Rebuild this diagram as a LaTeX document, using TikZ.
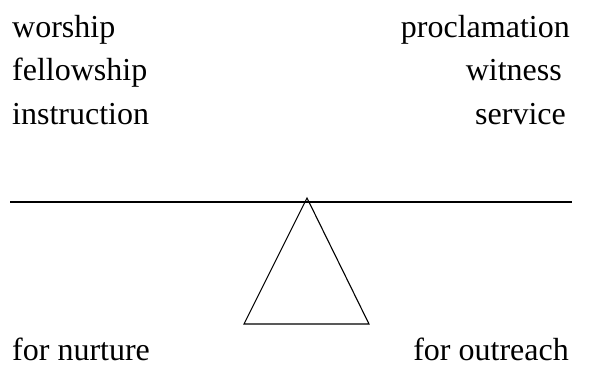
\documentclass[tikz,border=0pt]{standalone}
\usepackage{fontspec}
\setmainfont{Liberation Serif}
\begin{document}
\begin{tikzpicture}[x=1pt,y=-1pt,
  lbl/.style={inner sep=0pt,font=\fontsize{32}{37}\selectfont},
  lft/.style={lbl,anchor=base west},
  rgt/.style={lbl,anchor=base east},
  stroke/.style={line width=1.1pt,line join=miter}]
\useasboundingbox (0,0) rectangle (594,367);
\node[lft] (wor) at (12,37) {worship};
\node[lft] (fel) at (12,80) {fellowship};
\node[lft] (ins) at (12,124) {instruction};
\node[lft] (nur) at (12,360) {for nurture};
\node[rgt] (pro) at (570,37) {proclamation};
\node[rgt] (wit) at (562,80) {witness};
\node[rgt] (ser) at (566,124) {service};
\node[rgt] (out) at (569,360) {for outreach};
\coordinate (beamL) at (10,202);
\coordinate (beamR) at (572,202);
\coordinate (apex) at (307,198);
\coordinate (baseL) at (244,324);
\coordinate (baseR) at (369,324);
\draw[stroke] (beamL) -- (beamR);
\draw[stroke] (apex) -- (baseR) -- (baseL) -- cycle;
\end{tikzpicture}
\end{document}
